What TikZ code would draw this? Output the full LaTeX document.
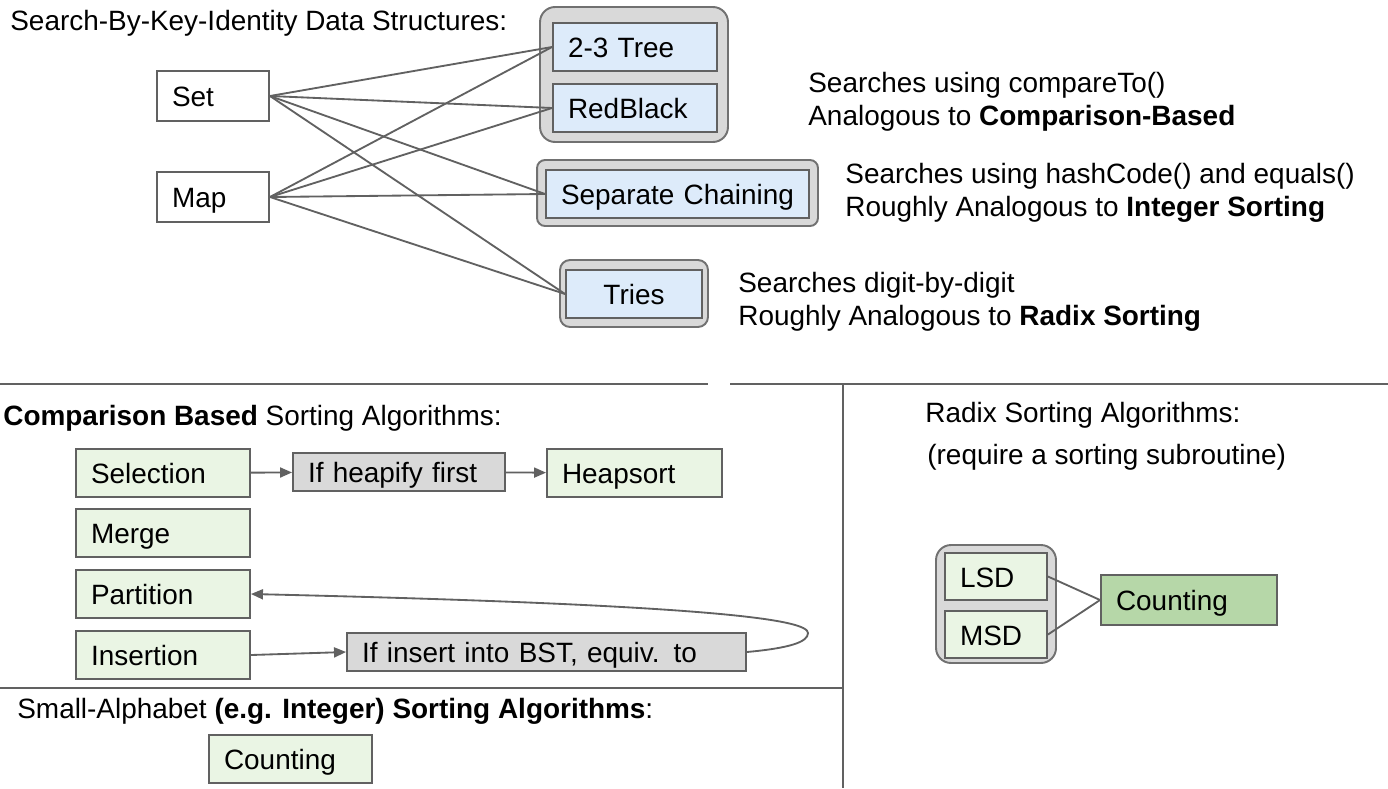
\documentclass[tikz,border=0pt]{standalone}
\usepackage{fontspec}
\setmainfont{Liberation Sans}
\usetikzlibrary{positioning,arrows.meta}

\definecolor{edgegray}{HTML}{616161}
\definecolor{grpfill}{HTML}{D9D9D9}
\definecolor{bluefill}{HTML}{DDEBFA}
\definecolor{greenfill}{HTML}{EAF5E4}
\definecolor{countfill}{HTML}{B6D7A8}
\definecolor{stepfill}{HTML}{D9D9D9}

\begin{document}
\begin{tikzpicture}[x=0.02cm, y=-0.02cm,
    font=\fontsize{15.9pt}{19pt}\selectfont,
    box/.style={draw=edgegray, line width=1.1pt, inner xsep=0.3cm, inner ysep=0pt,
        text height=1.3em, text depth=0.1em, align=left, minimum height=0.96cm},
    plain/.style={box, fill=white, minimum height=1cm, text width=1.64cm},
    blue/.style={box, fill=bluefill},
    green/.style={box, fill=greenfill, text width=2.88cm},
    stepbox/.style={box, fill=stepfill, minimum height=0.76cm},
    group/.style={draw=edgegray!90, fill=grpfill, line width=1.1pt, inner sep=0pt},
    note/.style={anchor=base west, inner sep=0pt},
    link/.style={draw=edgegray, line width=1.05pt},
    arrow/.style={link, -{Triangle[length=0.24cm, width=0.2cm]}}]

    \useasboundingbox (0,0) rectangle (1388,788);

    % Search by key identity
    \node[note] (title) at (10,30) {Search-By-Key-Identity Data Structures:};

    \node[plain] (set) at (213,96) {Set};
    \node[plain] (map) at (213,197) {Map};

    \node[group, rounded corners=0.3cm, minimum width=3.76cm, minimum height=2.7cm] (treegrp) at (634,74.5) {};
    \node[group, rounded corners=0.16cm, minimum width=5.62cm, minimum height=1.32cm] (sepgrp) at (677.5,193) {};
    \node[group, rounded corners=0.2cm, minimum width=2.96cm, minimum height=1.34cm] (triegrp) at (634,293.5) {};

    \node[blue, text width=2.68cm] (tree) at (635,47) {2-3 Tree};
    \node[blue, text width=2.68cm] (rb) at (635,108) {RedBlack};
    \node[blue, text width=4.66cm] (sepch) at (677.5,194) {\mbox{Separate Chaining}};
    \node[blue, text width=2.12cm, align=center] (tries) at (634,294) {Tries};

    \foreach \from in {set, map}
        \foreach \to in {tree, rb, sepch, tries}
            \draw[link] (\from.east) -- (\to.west);

    \node[note] (cmpA) at (808,92) {Searches using compareTo()};
    \node[note] (cmpB) at (808,125) {Analogous to \textbf{Comparison-Based}};
    \node[note] (hashA) at (845,183) {Searches using hashCode() and equals()};
    \node[note] (hashB) at (845,216) {Roughly Analogous to \textbf{Integer Sorting}};
    \node[note] (digA) at (738,292) {Searches digit-by-digit};
    \node[note] (digB) at (738,325) {Roughly Analogous to \textbf{Radix Sorting}};

    % Dividers
    \draw[link, line width=1.1pt] (0,384) -- (708,384);
    \draw[link, line width=1.1pt] (730,384) -- (1388,384);
    \draw[link, line width=1.1pt] (843,384) -- (843,788);
    \draw[link, line width=1.4pt] (0,688) -- (843,688);

    % Comparison based sorts
    \node[note] (cmptitle) at (3,425) {\textbf{Comparison Based} Sorting Algorithms:};

    \node[green] (sel) at (163,473) {Selection};
    \node[green] (merge) at (163,533) {Merge};
    \node[green] (part) at (163,594) {Partition};
    \node[green] (ins) at (163,655) {Insertion};
    \node[stepbox, text width=3.64cm] (heapify) at (399,472) {If heapify first};
    \node[green, text width=2.9cm] (heapsort) at (634.5,473) {Heapsort};
    \node[stepbox, text width=7.38cm] (bst) at (546.5,652) {If insert into BST, equiv. to};

    \draw[arrow] (sel) -- (heapify);
    \draw[arrow] (heapify) -- (heapsort);
    \draw[arrow] (ins.east) -- (bst.west);
    % loop back to partition
    \draw[arrow] (bst.east) .. controls (790,648) and (808,642) .. (808,633)
        .. controls (808,620) and (720,605) .. (part.east);

    % Radix sorts
    \node[note] (radtitle) at (925,422) {Radix Sorting Algorithms:};
    \node[note] (radsub) at (927,464) {(require a sorting subroutine)};

    \node[group, rounded corners=0.3cm, minimum width=2.4cm, minimum height=2.36cm] (radgrp) at (996,604) {};
    \node[box, fill=greenfill, text width=1.44cm, minimum height=0.94cm] (lsd) at (996,576.5) {LSD};
    \node[box, fill=greenfill, text width=1.44cm, minimum height=0.94cm] (msd) at (996,634.5) {MSD};
    \node[box, fill=countfill, text width=2.92cm, minimum height=1cm] (cnt) at (1189,600) {Counting};

    \draw[link] (lsd.east) -- (cnt.west);
    \draw[link] (msd.east) -- (cnt.west);

    % Small alphabet sorts
    \node[note] (smalltitle) at (17,718) {Small-Alphabet \textbf{(e.g. Integer) Sorting Algorithms}:};
    \node[green, text width=2.66cm] (count) at (290.5,759) {Counting};
\end{tikzpicture}
\end{document}
